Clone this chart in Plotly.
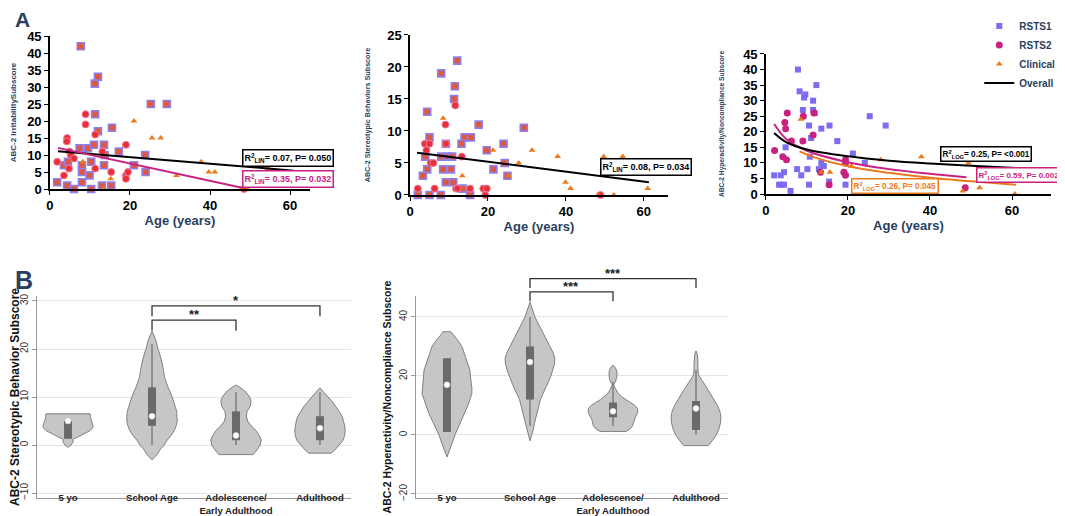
import plotly.graph_objects as go

FONT = "Arial, Liberation Sans, sans-serif"

# ---------------- Panel A1: Irritability ----------------
a1_rsts1_age = [7.7, 12.0, 11.2, 25.2, 29.2, 11.3, 12.0, 15.5, 7.4, 9.5, 11.0, 13.5, 13.7, 17.2, 23.8, 3.5,
                4.5, 8.0, 10.3, 8.0, 9.9, 13.5, 15.3, 13.0, 21.0, 23.9, 1.8, 8.0, 4.3, 6.0, 10.3]
a1_rsts1_val = [42, 33, 31, 25, 25, 22, 17, 18, 12, 12, 13, 13, 10, 11, 10, 7,
                8, 7, 8, 5, 4, 7, 1, 1, 7, 5, 2, 2, 1, 0, 0]
a1_rsts2_age = [8.9, 8.9, 11.3, 4.3, 4.2, 19.0, 4.9, 5.2, 6.0, 13.1, 1.8, 4.75, 3.5, 11.3, 15.3, 19.0, 19.0, 19.5, 48.5]
a1_rsts2_val = [22, 19, 16, 15, 14, 13, 11, 10, 9, 11, 8, 6, 4, 6, 5, 4, 3, 5, 0]
a1_clin_age = [21.0, 25.5, 27.7, 8.2, 15.2, 13.3, 31.6, 49.5, 37.8, 39.7, 41.2, 54.5, 61.0, 52.0, 47.8, 49.5]
a1_clin_val = [20, 15, 15, 8, 3, 0, 4, 11, 8, 5, 5, 6, 4, 1, 0, 0]
a1_overall_fit_age = [2, 61]
a1_overall_fit_val = [11.1, 5.4]
a1_rsts2_fit_age = [2, 48]
a1_rsts2_fit_val = [12.1, 0.4]

# ---------------- Panel A2: Stereotypic behaviors ----------------
a2_rsts1_age = [12.1, 8.0, 11.5, 11.3, 4.4, 17.6, 14.0, 15.6, 5.0, 9.2, 13.2, 19.7, 24.0, 3.9, 8.0, 9.7,
                10.8, 4.4, 8.5, 10.5, 3.3, 21.4, 9.2, 11.1, 25.0, 13.5, 2.0, 5.0, 7.9, 15.4, 29.2, 24.3]
a2_rsts1_val = [21, 19, 17, 15, 13, 11, 9, 9, 9, 8, 8, 7, 8, 6, 6, 6,
                6, 4, 4, 4, 3, 4, 2, 2, 3, 1, 0, 0, 0, 0, 10.5, 5]
a2_rsts2_age = [11.6, 9.1, 3.8, 5.0, 9.2, 4.2, 13.3, 5.3, 6.0, 2.0, 6.3, 11.8, 12.2, 15.4, 18.8, 19.7, 19.3, 48.9]
a2_rsts2_val = [14, 11, 8, 8, 8, 7, 6, 5, 5, 1, 1, 1, 1, 1, 1, 1, 0, 0]
a2_clin_age = [8.5, 21.3, 13.4, 31.3, 37.9, 49.7, 54.6, 27.9, 25.3, 39.9, 41.2, 61.0, 48.2, 52.3]
a2_clin_val = [12, 7, 3, 7, 6, 6, 6, 5, 3, 2, 1, 1, 0, 0]
a2_overall_fit_age = [1.8, 61.3]
a2_overall_fit_val = [6.6, 2.0]

# ---------------- Panel A3: Hyperactivity/Noncompliance ----------------
a3_rsts1_age = [7.8, 8.2, 9.6, 9.3, 12.3, 11.5, 9.0, 11.5, 11.9, 10.5, 15.5, 13.5, 11.0, 17.4, 4.8, 10.7, 21.2, 24.1,
                13.5, 14.1, 12.9, 7.6, 10.1, 8.6, 2.0, 3.6, 4.4, 3.2, 3.7, 4.4, 6.0, 15.4, 10.5, 19.4, 25.3, 29.2]
a3_rsts1_val = [40, 33, 32, 31, 35, 30, 27, 27, 26, 22, 22, 21, 18, 17, 15, 12, 13, 10,
                10, 9, 8, 8, 8, 6, 6, 6, 7, 3, 3, 3, 1, 4, 3, 3, 25, 22]
a3_rsts2_age = [5.2, 9.1, 11.7, 4.6, 4.8, 11.5, 2.1, 4.1, 5.0, 6.2, 9.0, 19.4, 19.4, 19.0, 19.4, 13.3, 15.4, 48.6]
a3_rsts2_val = [26, 25, 26, 23, 21, 19, 14, 12, 11, 17, 17, 11, 10, 7, 6, 7, 3, 2]
a3_clin_age = [8.5, 13.5, 15.6, 20.8, 28.0, 37.9, 49.4, 52.1, 48.0, 60.7, 39.9, 31.5]
a3_clin_val = [24, 7, 7, 9, 11, 12, 10, 2, 1, 0, 0, 1]
a3_overall_fit_age = [2, 5, 10, 20, 30, 40, 50, 61]
a3_overall_fit_val = [19.6, 16.6, 14.3, 12.1, 10.7, 9.8, 9.1, 8.4]
a3_rsts2_fit_age = [2, 5, 10, 20, 30, 40, 48.9]
a3_rsts2_fit_val = [22.5, 17.6, 13.9, 10.2, 8.0, 6.5, 5.4]
a3_clin_fit_age = [8.2, 12, 20, 30, 40, 50, 61]
a3_clin_fit_val = [13.7, 11.7, 8.9, 6.8, 5.2, 4.1, 3.0]

# ---------------- Panel B: violins by age group ----------------
groups = ["5 yo", "School Age", "Adolescence/<br>Early Adulthood", "Adulthood"]

# B1: stereotypic behavior – density profiles (level, relative density)
b1_levels = [
    [-0.5, 0.0, 0.6, 1.2, 1.6, 2.2, 3.0, 3.8, 4.6, 5.4, 6.0, 6.5],
    [-3.1, -2, -1, 0, 1, 2, 3, 4, 5, 6, 7, 8, 10, 12, 14, 16, 18, 20, 22, 23.7],
    [-2, -1, 0, 1, 2, 3, 4, 5, 6, 7, 8, 9, 10, 11, 12, 12.5],
    [-1.7, -1, 0, 1, 2, 3, 4, 5, 6, 7, 8, 9, 10, 11, 11.9],
]
b1_density = [
    [0, 3, 5, 5, 9, 15, 22, 25, 24, 22.5, 22, 22],
    [0, 5, 8, 12, 15, 19, 22, 24, 25, 25, 24.5, 23, 20, 16, 12.5, 11, 9, 6, 3.5, 0],
    [17, 21, 24, 25, 23, 20, 15, 11.5, 10.3, 11, 14, 15, 13.5, 10, 4, 0],
    [11, 15, 19, 23, 24.5, 25, 24.5, 23.5, 22, 19, 16, 12.5, 8, 4, 0],
]
b1_q1 = [1.3, 4, 1, 1]
b1_median = [5, 6, 2, 3.5]
b1_q3 = [5, 12, 7, 6]
b1_lo = [1.3, 0, 0, 0]
b1_hi = [5, 21, 11, 11]
b1_sig_from = [2, 2]
b1_sig_to = [3, 4]
b1_sig_y = [26, 29]
b1_sig_label = ["**", "*"]

# B2: hyperactivity/noncompliance
b2_levels = [
    [-7.5, -5, -2, 0, 3, 5, 8, 10, 12, 14, 16, 18, 20, 22, 25, 28, 30, 32, 34, 35],
    [-2, 0, 2, 4, 6, 8, 10, 12, 14, 16, 18, 20, 22, 24, 26, 28, 30, 32, 34, 36, 38, 40, 42, 44, 45],
    [1.2, 2, 3, 4, 5, 6, 7, 8, 9, 10, 11, 12, 13, 14, 15, 16, 16.8, 17.3, 18, 19, 20, 21, 22, 23, 23.7],
    [-3.6, -2.5, -1.5, 0, 2, 4, 6.3, 8, 10, 12, 14, 15.4, 17, 18.5, 19.5, 20.5, 22, 24, 26, 27.5, 28.5],
]
b2_density = [
    [0, 3, 6, 8, 12, 15, 19, 21, 23, 25, 25, 24, 23.5, 23, 20, 17, 15, 11, 6, 4],
    [0, 2, 3.5, 4.5, 6, 7.5, 9, 10.5, 13, 16, 18.5, 21, 23, 24.5, 25, 23, 20, 17, 14, 11, 8, 5, 3, 1, 0],
    [13, 17, 19.5, 20.5, 21, 22.5, 24, 25, 24.5, 22, 17.5, 12.5, 8.5, 5.5, 3.5, 2, 1, 1, 2.5, 3.5, 4, 4, 3.5, 2, 0],
    [12.5, 15, 17.5, 20.5, 23, 24.5, 25, 24, 21.5, 18, 14.5, 12.5, 9, 6, 4, 2.5, 2, 2, 1.8, 1.2, 0],
]
b2_q1 = [1, 12, 6, 1.7]
b2_median = [17, 24.7, 8, 9]
b2_q3 = [26, 30, 11, 11.5]
b2_lo = [1, 3, 3, 0]
b2_hi = [26, 40, 18, 22]
b2_sig_from = [2, 2]
b2_sig_to = [3, 4]
b2_sig_y = [48.5, 53]
b2_sig_label = ["***", "***"]

# ---------------- Styles ----------------
BLUE = "#7b6cf0"
MAG = "#c8217f"
ORANGE = "#ec7a1c"
RED = "#e8303a"

fig = go.Figure()


def add_scatter_panel(ax, r1a, r1v, r2a, r2v, ca, cv, mixed):
    xa, ya = "x" + ax, "y" + ax
    if mixed:
        sq = dict(symbol="square", size=7, color="#e0573a", line=dict(color="#8e80ee", width=1.6))
        ci = dict(symbol="circle", size=7, color=RED, line=dict(color="#f27a96", width=1))
    else:
        sq = dict(symbol="square", size=6, color=BLUE, line=dict(width=0))
        ci = dict(symbol="circle", size=7, color=MAG, line=dict(width=0))
    tri = dict(symbol="triangle-up", size=6, color=ORANGE, line=dict(width=0))
    leg = not mixed
    fig.add_trace(go.Scatter(x=r1a, y=r1v, mode="markers", marker=sq, name="RSTS1", legendrank=1,
                             showlegend=leg, cliponaxis=False, xaxis=xa, yaxis=ya))
    fig.add_trace(go.Scatter(x=r2a, y=r2v, mode="markers", marker=ci, name="RSTS2", legendrank=2,
                             showlegend=leg, cliponaxis=False, xaxis=xa, yaxis=ya))
    fig.add_trace(go.Scatter(x=ca, y=cv, mode="markers", marker=tri, name="Clinical", legendrank=3,
                             showlegend=leg, cliponaxis=False, xaxis=xa, yaxis=ya))


add_scatter_panel("", a1_rsts1_age, a1_rsts1_val, a1_rsts2_age, a1_rsts2_val, a1_clin_age, a1_clin_val, True)
fig.add_trace(go.Scatter(x=a1_overall_fit_age, y=a1_overall_fit_val, mode="lines",
                         line=dict(color="black", width=2), showlegend=False, xaxis="x", yaxis="y"))
fig.add_trace(go.Scatter(x=a1_rsts2_fit_age, y=a1_rsts2_fit_val, mode="lines",
                         line=dict(color=MAG, width=2), showlegend=False, xaxis="x", yaxis="y"))

add_scatter_panel("2", a2_rsts1_age, a2_rsts1_val, a2_rsts2_age, a2_rsts2_val, a2_clin_age, a2_clin_val, True)
fig.add_trace(go.Scatter(x=a2_overall_fit_age, y=a2_overall_fit_val, mode="lines",
                         line=dict(color="black", width=2), showlegend=False, xaxis="x2", yaxis="y2"))

add_scatter_panel("3", a3_rsts1_age, a3_rsts1_val, a3_rsts2_age, a3_rsts2_val, a3_clin_age, a3_clin_val, False)
fig.add_trace(go.Scatter(x=a3_rsts2_fit_age, y=a3_rsts2_fit_val, mode="lines", line_shape="spline",
                         line=dict(color=MAG, width=2), showlegend=False, xaxis="x3", yaxis="y3"))
fig.add_trace(go.Scatter(x=a3_clin_fit_age, y=a3_clin_fit_val, mode="lines", line_shape="spline",
                         line=dict(color=ORANGE, width=2), showlegend=False, xaxis="x3", yaxis="y3"))
fig.add_trace(go.Scatter(x=a3_overall_fit_age, y=a3_overall_fit_val, mode="lines", line_shape="spline",
                         name="Overall", legendrank=4, line=dict(color="black", width=2),
                         showlegend=True, xaxis="x3", yaxis="y3"))

# ---------------- Violins ----------------
HALF = 0.3  # max half width in category units


def add_violins(ax, levels, density, q1, med, q3, lo, hi):
    xa, ya = "x" + ax, "y" + ax
    dmax = max(max(d) for d in density)
    for i in range(len(groups)):
        pos = i + 1
        lv, dv = levels[i], density[i]
        xs = [pos + d / dmax * HALF for d in dv] + [pos - d / dmax * HALF for d in reversed(dv)]
        ys = list(lv) + list(reversed(lv))
        xs.append(xs[0])
        ys.append(ys[0])
        fig.add_trace(go.Scatter(x=xs, y=ys, mode="lines", fill="toself", fillcolor="#c6c6c6",
                                 line=dict(color="#808080", width=1), showlegend=False,
                                 xaxis=xa, yaxis=ya, hoverinfo="skip"))
        fig.add_trace(go.Scatter(x=[pos, pos], y=[lo[i], hi[i]], mode="lines",
                                 line=dict(color="#7d7d7d", width=1.5), showlegend=False,
                                 xaxis=xa, yaxis=ya))
        fig.add_trace(go.Scatter(x=[pos, pos], y=[q1[i], q3[i]], mode="lines",
                                 line=dict(color="#6a6a6a", width=8), showlegend=False,
                                 xaxis=xa, yaxis=ya))
        fig.add_trace(go.Scatter(x=[pos], y=[med[i]], mode="markers",
                                 marker=dict(color="white", size=6, line=dict(color="#d0d0d0", width=0.5)),
                                 showlegend=False, xaxis=xa, yaxis=ya))


add_violins("4", b1_levels, b1_density, b1_q1, b1_median, b1_q3, b1_lo, b1_hi)
add_violins("5", b2_levels, b2_density, b2_q1, b2_median, b2_q3, b2_lo, b2_hi)

# ---------------- Axes ----------------
B1_X, B1_Y = [0.63, 4.37], [-11.04, 31.04]
B2_X, B2_Y = [0.627, 4.386], [-21.36, 47.1]
B_DOM = [1 - 490 / 516, 1 - 288 / 516]

tickA = dict(family=FONT, size=13, color="black", weight="bold")


def a_axes(n, xdom, ydom, xr, yr, ytitle, ysize, ystand):
    xa = dict(domain=xdom, range=xr, anchor="y" + n, automargin=False, showline=True, linecolor="black",
              linewidth=1.5, ticks="outside", ticklen=4, tickcolor="black", tickvals=[0, 20, 40, 60],
              showgrid=False, zeroline=False, tickfont=tickA,
              title=dict(text="Age (years)", font=dict(family=FONT, size=13, weight="bold"), standoff=3))
    ya = dict(domain=ydom, range=yr, anchor="x" + n, automargin=False, showline=True, linecolor="black",
              linewidth=1.5, ticks="outside", ticklen=4, tickcolor="black", dtick=5, tick0=0,
              showgrid=False, zeroline=False, tickfont=tickA,
              title=dict(text=ytitle, font=dict(family=FONT, size=ysize, weight="bold"), standoff=ystand))
    return xa, ya


x1, y1 = a_axes("", [0.0394, 0.2836], [0.6492, 0.9457], [0, 65], [0, 45],
                "ABC-2 IrritabilitySubscore", 8, 9)
x2, y2 = a_axes("2", [0.3775, 0.6197], [0.6376, 0.9477], [0, 66.2], [0, 25],
                "ABC-2 Stereotypic Behaviors Subscore", 7.2, 16)
x3, y3 = a_axes("3", [0.7117, 0.9793], [0.6395, 0.9109], [0, 69.5], [0, 45],
                "ABC-2 Hyperactivity/Noncompliance Subscore", 6.6, 18)


def b_axes(n, xdom, xr, yr, ytitle, yticks, tsize):
    xa = dict(domain=xdom, range=xr, anchor="y" + n, automargin=False, showline=True, linecolor="#9a9a9a",
              linewidth=1, ticks="", tickvals=[1, 2, 3, 4], ticktext=groups, showgrid=False, zeroline=False,
              ticklabelstandoff=-9,
              tickfont=dict(family=FONT, size=9.5, color="#222", weight="bold"))
    ya = dict(domain=B_DOM, range=yr, anchor="x" + n, automargin=False, showline=True, linecolor="#9a9a9a",
              linewidth=1, ticks="outside", ticklen=4, tickcolor="#9a9a9a", tickvals=yticks, tickangle=-90,
              showgrid=True, gridcolor="#e4e4e4", gridwidth=1, zeroline=False,
              tickfont=dict(family=FONT, size=10, color="#333"),
              title=dict(text=ytitle, font=dict(family=FONT, size=tsize, weight="bold", color="#111"),
                         standoff=4))
    return xa, ya


x4, y4 = b_axes("4", [0.0272, 0.3221], B1_X, B1_Y, "ABC-2 Stereotypic Behavior Subscore",
                [-10, 0, 10, 20, 30], 12)
x5, y5 = b_axes("5", [0.3831, 0.6761], B2_X, B2_Y, "ABC-2 Hyperactivity/Noncompliance Subscore",
                [-20, 0, 20, 40], 10.5)

# ---------------- Significance brackets ----------------
shapes = []
annotations = []


def frac(v, r):
    return (v - r[0]) / (r[1] - r[0])


def add_brackets(ax, xr, yr, f, t, ylev, labels, drop):
    for a, b, yv, lab in zip(f, t, ylev, labels):
        xa_, xb_ = frac(a, xr), frac(b, xr)
        yt, yb = frac(yv, yr), frac(yv - drop, yr)
        shapes.append(dict(type="path", xref="x" + ax + " domain", yref="y" + ax + " domain",
                           path=f"M {xa_} {yb} L {xa_} {yt} L {xb_} {yt} L {xb_} {yb}",
                           line=dict(color="#333333", width=1.3)))
        annotations.append(dict(xref="x" + ax + " domain", yref="y" + ax + " domain",
                                x=(xa_ + xb_) / 2, y=yt, text=lab, showarrow=False, yanchor="bottom",
                                yshift=-4, font=dict(family=FONT, size=13, color="#222", weight="bold")))


add_brackets("4", B1_X, B1_Y, b1_sig_from, b1_sig_to, b1_sig_y, b1_sig_label, 2.2)
add_brackets("5", B2_X, B2_Y, b2_sig_from, b2_sig_to, b2_sig_y, b2_sig_label, 3.2)


# ---------------- Stats boxes ----------------
def stat_box(xc, yc, text, color, size=9):
    annotations.append(dict(xref="paper", yref="paper", x=xc / 1065, y=1 - yc / 516, text=text,
                            showarrow=False, xanchor="center", yanchor="middle", bgcolor="white",
                            bordercolor=color, borderwidth=1.5, borderpad=1,
                            font=dict(family=FONT, size=size, color=color, weight="bold")))


stat_box(280, 149.5, "R<sup>2</sup><sub>LIN</sub>= 0.07, P= 0.050", "black")
stat_box(280, 171.5, "R<sup>2</sup><sub>LIN</sub>= 0.35, P= 0.032", MAG)
stat_box(638, 159, "R<sup>2</sup><sub>LIN</sub>= 0.08, P= 0.034", "black")
stat_box(978, 145.5, "R<sup>2</sup><sub>LOG</sub>= 0.25, P= &lt;0.001", "black", 8.2)
stat_box(1011, 167, "R<sup>2</sup><sub>LOG</sub>= 0.59, P= 0.002", MAG, 8.0)
stat_box(887, 178, "R<sup>2</sup><sub>LOG</sub>= 0.26, P= 0.045", ORANGE, 8.2)

annotations.append(dict(xref="paper", yref="paper", x=0.005, y=1.0, text="A", showarrow=False,
                        xanchor="left", yanchor="top", yshift=2,
                        font=dict(family=FONT, size=21, weight="bold")))
annotations.append(dict(xref="paper", yref="paper", x=0.005, y=1 - 256 / 516, text="B", showarrow=False,
                        xanchor="left", yanchor="top",
                        font=dict(family=FONT, size=25, weight="bold")))

fig.update_layout(
    width=1065, height=516, margin=dict(l=0, r=0, t=0, b=0, autoexpand=False),
    paper_bgcolor="white", plot_bgcolor="white",
    font=dict(family=FONT),
    xaxis=x1, yaxis=y1, xaxis2=x2, yaxis2=y2, xaxis3=x3, yaxis3=y3,
    xaxis4=x4, yaxis4=y4, xaxis5=x5, yaxis5=y5,
    shapes=shapes, annotations=annotations,
    legend=dict(x=0.912, y=0.993, xanchor="left", yanchor="top", bgcolor="rgba(0,0,0,0)",
                font=dict(family=FONT, size=10, weight="bold"), itemwidth=30, tracegroupgap=0,
                itemsizing="trace"),
)

fig.write_html("out.html")
